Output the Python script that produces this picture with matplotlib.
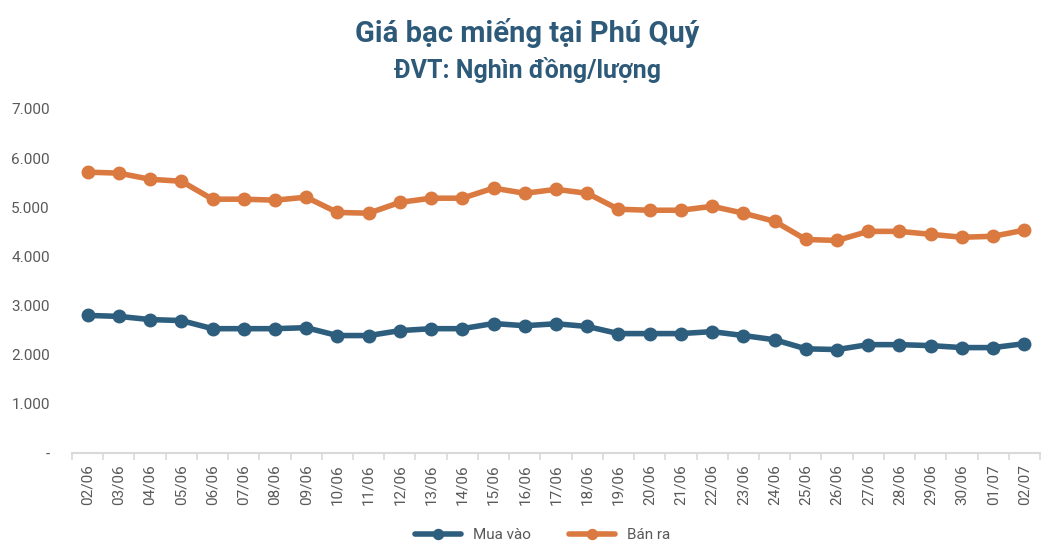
import matplotlib.pyplot as plt
import numpy as np
from matplotlib.ticker import FuncFormatter

# ngày
dates = ['02/06', '03/06', '04/06', '05/06', '06/06', '07/06', '08/06', '09/06',
         '10/06', '11/06', '12/06', '13/06', '14/06', '15/06', '16/06', '17/06',
         '18/06', '19/06', '20/06', '21/06', '22/06', '23/06', '24/06', '25/06',
         '26/06', '27/06', '28/06', '29/06', '30/06', '01/07', '02/07']
# giá mua vào / bán ra (nghìn đồng/lượng)
mua_vao = [2800, 2780, 2715, 2695, 2530, 2530, 2530, 2550, 2390, 2390, 2490,
           2530, 2530, 2635, 2590, 2630, 2575, 2430, 2430, 2430, 2470, 2390,
           2305, 2120, 2105, 2205, 2205, 2185, 2145, 2145, 2225]
ban_ra = [5715, 5695, 5570, 5530, 5165, 5165, 5145, 5205, 4895, 4880, 5100,
          5185, 5185, 5390, 5285, 5365, 5285, 4960, 4940, 4940, 5020, 4880,
          4715, 4345, 4325, 4510, 4510, 4450, 4390, 4410, 4535]

blue = '#2E5E7E'
orange = '#DB7A40'
gray = '#595959'

plt.rcParams['font.family'] = ['Roboto', 'DejaVu Sans']

fig = plt.figure(figsize=(10.54, 5.58), dpi=100)
ax = fig.add_axes([72 / 1054, 105 / 558, 968 / 1054, 344 / 558])

x = np.arange(len(dates))
ax.plot(x, mua_vao, color=blue, lw=4, marker='o', ms=9, label='Mua vào', solid_capstyle='round')
ax.plot(x, ban_ra, color=orange, lw=4, marker='o', ms=9, label='Bán ra', solid_capstyle='round')

ax.set_xlim(-0.5, len(dates) - 0.5)
ax.set_ylim(0, 7000)
ax.set_yticks(range(0, 7001, 1000))
ax.yaxis.set_major_formatter(FuncFormatter(lambda v, p: '-' if v == 0 else f'{int(v):,}'.replace(',', '.')))
ax.set_xticks(x)
ax.set_xticklabels(dates, rotation=90)
ax.set_xticks(np.arange(-0.5, len(dates), 1), minor=True)
ax.tick_params(axis='x', which='major', length=0, pad=8, labelsize=11, labelcolor=gray)
ax.tick_params(axis='x', which='minor', length=5, color='#D9D9D9', width=1.2)
ax.tick_params(axis='y', length=0, pad=16, labelsize=11, labelcolor=gray)

for s in ['top', 'right', 'left']:
    ax.spines[s].set_visible(False)
ax.spines['bottom'].set_color('#D9D9D9')
ax.spines['bottom'].set_linewidth(1.5)

fig.text(0.5, 1 - 33 / 558, 'Giá bạc miếng tại Phú Quý', ha='center', va='center',
         fontsize=21, fontweight='bold', color='#2E5A7A')
fig.text(0.5, 1 - 70 / 558, 'ĐVT: Nghìn đồng/lượng', ha='center', va='center',
         fontsize=18, fontweight='bold', color='#2E5A7A')

fig.legend(loc='center', bbox_to_anchor=(0.515, 1 - 535 / 558), ncol=2, frameon=False,
           fontsize=11, labelcolor=gray, handlelength=3, columnspacing=2.5, markerscale=0.8)

fig.savefig('out.png', dpi=100)
